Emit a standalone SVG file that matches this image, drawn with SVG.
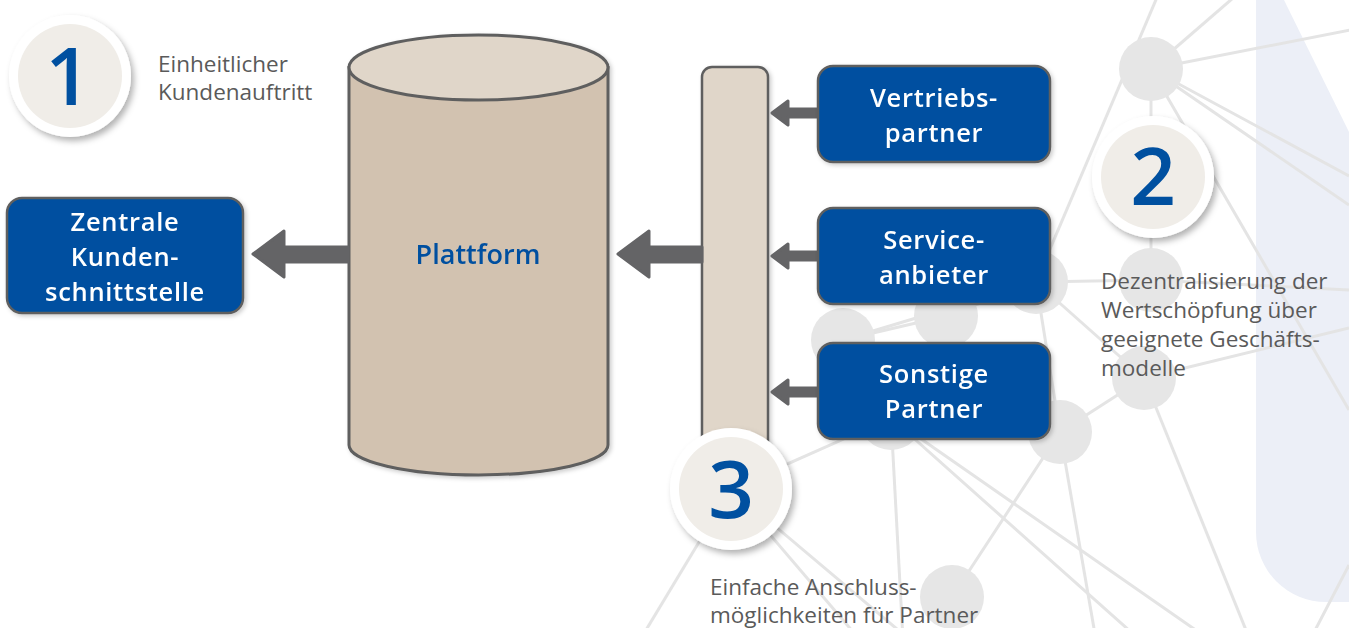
<svg xmlns="http://www.w3.org/2000/svg" width="1349" height="628" viewBox="0 0 1349 628">
<defs>
<style>
.net line{stroke:#e4e4e4;stroke-width:3}
.net circle{fill:#e6e6e6}
.lbl{font-family:"Open Sans","Noto Sans",sans-serif;font-size:22.5px;fill:#5a5a5a}
.box rect{fill:#0050a0;stroke:#5f5f5f;stroke-width:2.5}
.box text{font-family:"Open Sans","Noto Sans",sans-serif;font-size:25.5px;font-weight:600;letter-spacing:0.7px;fill:#ffffff;text-anchor:middle}
.badge .outer{fill:#ffffff}
.badge .inner{fill:#f0ede8}
.badge text{font-family:"Open Sans","Noto Sans",sans-serif;font-size:80px;font-weight:600;fill:#0050a0;text-anchor:middle}
.arrow{fill:#646466;stroke:#646466;stroke-width:3;stroke-linejoin:round}
</style>
<filter id="sh" x="-20%" y="-20%" width="150%" height="150%">
<feDropShadow dx="3" dy="4" stdDeviation="3" flood-color="#000" flood-opacity="0.3"/>
</filter>
<filter id="sh2" x="-10%" y="-10%" width="130%" height="130%">
<feDropShadow dx="2" dy="2" stdDeviation="2" flood-color="#000" flood-opacity="0.2"/>
</filter>
</defs>
<rect width="1349" height="628" fill="#ffffff"/>
<path d="M1256,0 L1284,0 L1349,132 L1349,602 L1326,602 A70,70 0 0 1 1256,532 Z" fill="#eceff7"/>
<g class="net" id="network">
<line x1="1158" y1="-5" x2="1036" y2="282"/>
<line x1="1151" y1="69" x2="1240" y2="-8"/>
<line x1="1151" y1="69" x2="1360" y2="28"/>
<line x1="1151" y1="69" x2="1349" y2="176"/>
<line x1="1151" y1="69" x2="1349" y2="205"/>
<line x1="1151" y1="69" x2="1349" y2="410"/>
<line x1="1151" y1="69" x2="1151" y2="280"/>
<line x1="1151" y1="280" x2="1036" y2="282"/>
<line x1="1151" y1="280" x2="1349" y2="290"/>
<line x1="1036" y1="282" x2="946" y2="316"/>
<line x1="946" y1="316" x2="843" y2="340"/>
<line x1="843" y1="340" x2="1036" y2="282"/>
<line x1="1036" y1="282" x2="1144" y2="378"/>
<line x1="1036" y1="282" x2="1060" y2="432"/>
<line x1="1144" y1="378" x2="1060" y2="432"/>
<line x1="1144" y1="378" x2="1349" y2="328"/>
<line x1="1144" y1="378" x2="1250" y2="640"/>
<line x1="1060" y1="432" x2="1096" y2="640"/>
<line x1="1060" y1="432" x2="952" y2="597"/>
<line x1="891" y1="418" x2="903" y2="640"/>
<line x1="891" y1="418" x2="1140" y2="640"/>
<line x1="891" y1="418" x2="1210" y2="640"/>
<line x1="891" y1="418" x2="731" y2="489"/>
<line x1="731" y1="489" x2="640" y2="640"/>
<line x1="731" y1="489" x2="910" y2="640"/>
<line x1="731" y1="489" x2="860" y2="640"/>
<line x1="1349" y1="565" x2="1310" y2="640"/>
<circle cx="1151" cy="69" r="32"/>
<circle cx="1151" cy="280" r="32"/>
<circle cx="1036" cy="282" r="32"/>
<circle cx="946" cy="316" r="32"/>
<circle cx="843" cy="340" r="32"/>
<circle cx="891" cy="418" r="32"/>
<circle cx="1060" cy="432" r="32"/>
<circle cx="1144" cy="378" r="32"/>
<circle cx="952" cy="597" r="32"/>
</g>
<g id="platform" filter="url(#sh2)">
<path d="M349,67.5 L349,445 A129.5,30 0 0 0 608,445 L608,67.5 Z" fill="#d2c2b0" stroke="#5f5f5f" stroke-width="3"/>
<ellipse cx="478.5" cy="67.5" rx="129.5" ry="32.5" fill="#e0d6c9" stroke="#5f5f5f" stroke-width="3"/>
<text x="478" y="264" font-family="Open Sans, Noto Sans, sans-serif" font-size="27" font-weight="600" fill="#0050a0" text-anchor="middle">Plattform</text>
</g>
<g id="bar" filter="url(#sh2)">
<rect x="702" y="67" width="66" height="400" rx="10" fill="#e0d6c9" stroke="#5f5f5f" stroke-width="2.5"/>
</g>
<g id="connectors">
<path class="arrow" d="M702,247 L649,247 L649,231 L618,254 L649,277 L649,262 L702,262 Z"/>
<path class="arrow" d="M348,247 L284,247 L284,231 L253,254 L284,277 L284,262 L348,262 Z"/>
<path class="arrow" d="M818,109 L788,109 L788,101 L772,113 L788,125 L788,117 L818,117 Z"/>
<path class="arrow" d="M818,252 L788,252 L788,244 L772,256 L788,268 L788,260 L818,260 Z"/>
<path class="arrow" d="M818,388 L788,388 L788,380 L772,392 L788,404 L788,396 L818,396 Z"/>
</g>
<g id="zentrale" class="box" filter="url(#sh2)">
<rect x="7" y="198" width="236" height="115" rx="15"/>
<text x="125" y="231">Zentrale</text>
<text x="125" y="266">Kunden-</text>
<text x="125" y="301">schnittstelle</text>
</g>
<g id="vertrieb" class="box" filter="url(#sh2)">
<rect x="818" y="66" width="232" height="96" rx="15"/>
<text x="934" y="107">Vertriebs-</text>
<text x="934" y="142">partner</text>
</g>
<g id="service" class="box" filter="url(#sh2)">
<rect x="818" y="208" width="232" height="96" rx="15"/>
<text x="934" y="249">Service-</text>
<text x="934" y="284">anbieter</text>
</g>
<g id="sonstige" class="box" filter="url(#sh2)">
<rect x="818" y="343" width="232" height="96" rx="15"/>
<text x="934" y="383">Sonstige</text>
<text x="934" y="418">Partner</text>
</g>
<g id="badge1" class="badge">
<circle class="outer" cx="70" cy="76" r="61" filter="url(#sh)"/>
<circle class="inner" cx="70" cy="76" r="52"/>
<text x="68" y="105">1</text>
</g>
<g id="badge2" class="badge">
<circle class="outer" cx="1153" cy="177" r="61" filter="url(#sh)"/>
<circle class="inner" cx="1153" cy="177" r="52"/>
<text x="1153" y="205">2</text>
</g>
<g id="badge3" class="badge">
<circle class="outer" cx="731" cy="489" r="61" filter="url(#sh)"/>
<circle class="inner" cx="731" cy="489" r="52"/>
<text x="731" y="518">3</text>
</g>
<g id="labels">
<text class="lbl" x="158" y="72">Einheitlicher</text>
<text class="lbl" x="158" y="100">Kundenauftritt</text>
<text class="lbl" x="1101" y="289">Dezentralisierung der</text>
<text class="lbl" x="1101" y="318">Wertschöpfung über</text>
<text class="lbl" x="1101" y="347">geeignete Geschäfts-</text>
<text class="lbl" x="1101" y="376">modelle</text>
<text class="lbl" x="710" y="595">Einfache Anschluss-</text>
<text class="lbl" x="710" y="623">möglichkeiten für Partner</text>
</g>
</svg>
